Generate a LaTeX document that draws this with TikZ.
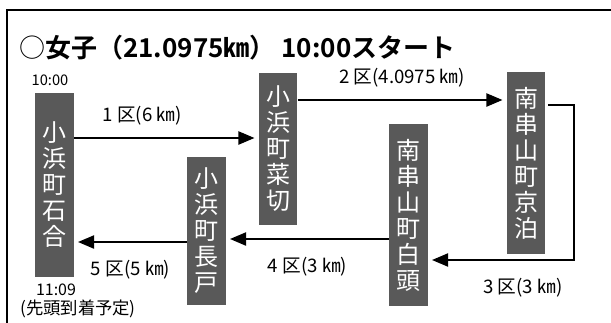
\documentclass[tikz,border=0pt]{standalone}
\usepackage{fontspec}
\newfontfamily\jp{Noto Sans CJK JP}
\newfontfamily\jpbold{Noto Sans CJK JP Bold}
\usetikzlibrary{arrows.meta}
\definecolor{stgray}{RGB}{89,89,89}

\begin{document}
\begin{tikzpicture}[x=0.75pt, y=-0.75pt,
  every node/.style = {font=\jp, inner sep=0pt},
  station/.style = {fill=stgray, text=white, minimum width=29pt,
    align=center, font=\jp\fontsize{18pt}{19.5pt}\selectfont},
  leg/.style = {line width=0.9pt, -{Triangle[length=12pt,width=10pt]}},
  legtext/.style = {font=\jp\fontsize{14pt}{16pt}\selectfont}]
  \useasboundingbox (0,0) rectangle (611,322);
  \draw[line width=1.1pt] (7,340) -- (7,10) -- (630,10);
  \node[anchor=west, font=\jpbold\fontsize{19.5pt}{22pt}\selectfont] (title) at (19,48)
    {{\jp ○}女子（21.0975㎞） 10:00スタート};
  % stations
  \node[station, minimum height=138pt] (ishiai) at (54.5,185) {小\\浜\\町\\石\\合};
  \node[station, minimum height=114pt] (nakiri) at (278,149) {小\\浜\\町\\菜\\切};
  \node[station, minimum height=136.5pt] (kyodomari) at (526,163) {南\\串\\山\\町\\京\\泊};
  \node[station, minimum height=136.5pt] (shirakashira) at (408.5,215) {南\\串\\山\\町\\白\\頭};
  \node[station, minimum height=111pt] (nagato) at (206.5,231) {小\\浜\\町\\長\\戸};
  \node[font=\jp\fontsize{11pt}{13pt}\selectfont] (start) at (50,80) {10:00};
  \node[font=\jp\fontsize{12pt}{13pt}\selectfont] (goal) at (56,290) {11:09};
  \node[legtext, font=\jp\fontsize{13pt}{15pt}\selectfont] (note) at (78,309) {(先頭到着予定)};
  % legs
  \draw[leg, shorten >=3pt] (ishiai.east |- 0,138) -- (nakiri.west |- 0,138)
    node[pos=0.37, legtext, above=9pt] {1 区(6 ㎞)};
  \draw[leg, shorten >=3pt] (nakiri.east |- 0,100) -- (kyodomari.west |- 0,100)
    node[midway, legtext, above=9pt] {2 区(4.0975 ㎞)};
  \draw[leg, line width=0.8pt, shorten >=3pt] ([xshift=2pt]kyodomari.east |- 0,105) -- (574,105)
    -- (574,260) coordinate (turn) -- (shirakashira.east |- 0,260)
    node[pos=0.35, legtext, below=13pt] {3 区(3 ㎞)};
  \draw[leg, shorten >=3pt] (shirakashira.west |- 0,239) -- (nagato.east |- 0,239)
    node[midway, legtext, below=13pt] {4 区(3 ㎞)};
  \draw[leg, shorten >=3pt] (nagato.west |- 0,242) -- (ishiai.east |- 0,242)
    node[midway, legtext, below=13pt] {5 区(5 ㎞)};
\end{tikzpicture}
\end{document}
